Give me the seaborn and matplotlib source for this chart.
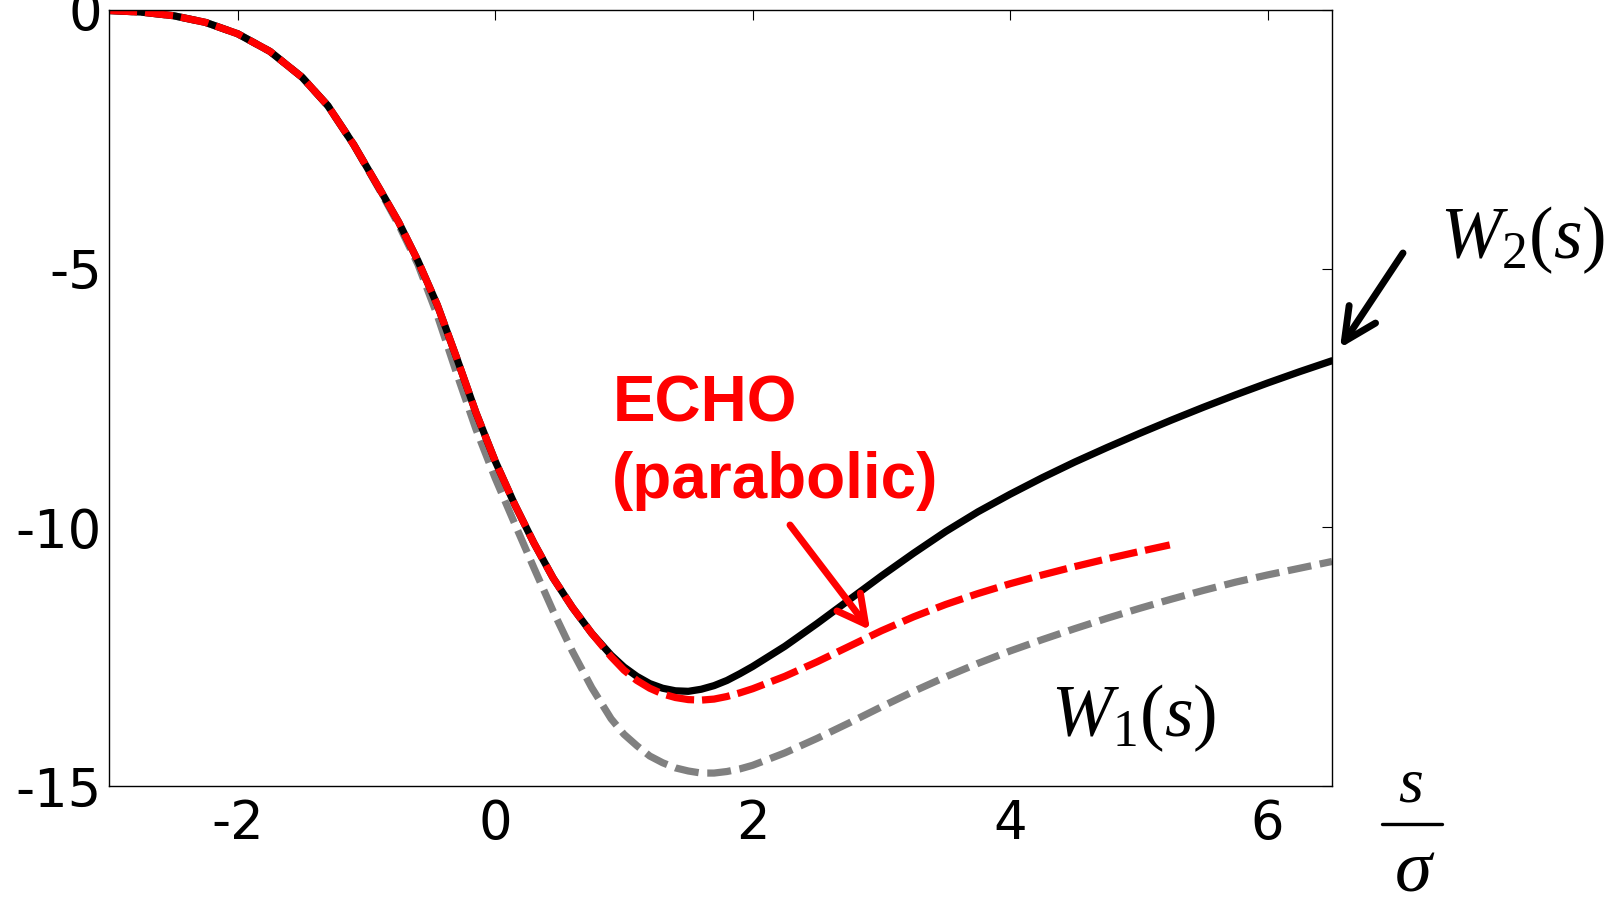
import matplotlib
matplotlib.use("Agg")
import matplotlib.pyplot as plt
from matplotlib.lines import Line2D
import seaborn as sns

# ---------------- data ----------------
x_w2 = [-3.0, -2.75, -2.5, -2.25, -2.0, -1.75, -1.5, -1.3, -1.1, -0.9, -0.75, -0.6,
        -0.45, -0.3, -0.15, 0.0, 0.15, 0.3, 0.45, 0.6, 0.75, 0.9, 1.0, 1.1, 1.2,
        1.3, 1.4, 1.5, 1.6, 1.7, 1.8, 1.9, 2.0, 2.25, 2.5, 2.75, 3.0, 3.25, 3.5,
        3.75, 4.0, 4.25, 4.5, 4.75, 5.0, 5.25, 5.5, 5.75, 6.0, 6.25, 6.5]
y_w2 = [-0.01, -0.04, -0.11, -0.24, -0.46, -0.80, -1.30, -1.85, -2.60, -3.45, -4.10, -4.85,
        -5.70, -6.72, -7.78, -8.72, -9.55, -10.30, -10.98, -11.55, -12.05, -12.47, -12.70, -12.88, -13.02,
        -13.11, -13.16, -13.17, -13.13, -13.06, -12.96, -12.83, -12.69, -12.30, -11.86, -11.40, -10.94, -10.50, -10.08,
        -9.70, -9.36, -9.04, -8.74, -8.46, -8.19, -7.93, -7.68, -7.44, -7.21, -6.99, -6.78]

x_echo = [-3.0, -2.75, -2.5, -2.25, -2.0, -1.75, -1.5, -1.3, -1.1, -0.9, -0.75, -0.6,
          -0.45, -0.3, -0.15, 0.0, 0.15, 0.3, 0.45, 0.6, 0.75, 0.9, 1.0, 1.1, 1.2,
          1.3, 1.4, 1.5, 1.6, 1.7, 1.8, 1.9, 2.0, 2.25, 2.5, 2.75, 3.0, 3.25, 3.5,
          3.75, 4.0, 4.25, 4.5, 4.75, 5.0, 5.24]
y_echo = [-0.01, -0.04, -0.11, -0.24, -0.46, -0.80, -1.30, -1.85, -2.60, -3.45, -4.10, -4.85,
          -5.70, -6.72, -7.78, -8.72, -9.55, -10.30, -10.98, -11.55, -12.05, -12.50, -12.76, -12.96, -13.11,
          -13.22, -13.29, -13.33, -13.34, -13.32, -13.27, -13.20, -13.12, -12.88, -12.60, -12.30, -12.00, -11.73, -11.49,
          -11.28, -11.09, -10.92, -10.76, -10.61, -10.47, -10.34]

x_w1 = [-3.0, -2.75, -2.5, -2.25, -2.0, -1.75, -1.5, -1.3, -1.1, -0.9, -0.75, -0.6,
        -0.45, -0.3, -0.15, 0.0, 0.15, 0.3, 0.45, 0.6, 0.75, 0.9, 1.0, 1.1, 1.2,
        1.3, 1.4, 1.5, 1.6, 1.7, 1.8, 1.9, 2.0, 2.25, 2.5, 2.75, 3.0, 3.25, 3.5,
        3.75, 4.0, 4.25, 4.5, 4.75, 5.0, 5.25, 5.5, 5.75, 6.0, 6.25, 6.5]
y_w1 = [-0.01, -0.04, -0.11, -0.24, -0.46, -0.80, -1.30, -1.85, -2.60, -3.47, -4.15, -4.92,
        -5.90, -7.02, -8.10, -9.05, -9.92, -10.78, -11.62, -12.40, -13.10, -13.70, -14.00, -14.22, -14.42,
        -14.55, -14.65, -14.71, -14.75, -14.75, -14.72, -14.67, -14.60, -14.36, -14.08, -13.78, -13.47, -13.17, -12.89,
        -12.63, -12.39, -12.17, -11.96, -11.76, -11.57, -11.39, -11.22, -11.06, -10.92, -10.79, -10.66]

x_ticks = [-2, 0, 2, 4, 6]
y_ticks = [0, -5, -10, -15]
x_limits = [-3, 6.5]
y_limits = [-15, 0]

# ---------------- style ----------------
sns.set_style("white")
plt.rcParams["font.family"] = ["DejaVu Sans"]
plt.rcParams["axes.unicode_minus"] = False
plt.rcParams["mathtext.fontset"] = "custom"
plt.rcParams["mathtext.rm"] = "Liberation Serif"
plt.rcParams["mathtext.it"] = "Liberation Serif:italic"

fig = plt.figure(figsize=(16.22, 8.99), dpi=100)
ax = fig.add_axes([0.0672, 0.1257, 0.75401, 0.86318])

LW = 5.2
sns.lineplot(x=x_w1, y=y_w1, ax=ax, color="#808080", linewidth=LW,
             linestyle=(0, (3.3, 1.2)), estimator=None, sort=False)
sns.lineplot(x=x_w2, y=y_w2, ax=ax, color="black", linewidth=LW,
             estimator=None, sort=False)
sns.lineplot(x=x_echo, y=y_echo, ax=ax, color="#ff0000", linewidth=LW,
             linestyle=(0, (3.9, 1.1)), estimator=None, sort=False)

ax.set_xlim(x_limits)
ax.set_ylim(y_limits)
ax.set_xticks(x_ticks)
ax.set_yticks(y_ticks)
ax.set_xticklabels([str(t) for t in x_ticks])
ax.set_yticklabels([str(t) for t in y_ticks])
ax.set_xlabel("")
ax.set_ylabel("")
ax.grid(False)

for sp in ax.spines.values():
    sp.set_visible(True)
    sp.set_color("black")
    sp.set_linewidth(1.0)

ax.tick_params(axis="both", which="major", direction="in", length=7.5, width=0.8,
               color="black", top=True, right=True, labelsize=38, labelcolor="black")
ax.tick_params(axis="x", pad=9)
ax.tick_params(axis="y", pad=5)

# ---------------- annotations ----------------
fig.text(0.3776, 0.5309, "ECHO", color="#ff0000", fontsize=46, fontweight="bold",
         family="Liberation Sans", ha="left", va="baseline")
fig.text(0.3773, 0.4461, "(parabolic)", color="#ff0000", fontsize=46, fontweight="bold",
         family="Liberation Sans", ha="left", va="baseline")

fig.text(0.8878, 0.7130, r"$W_2(s)$", fontsize=53, color="black", ha="left", va="baseline")
fig.text(0.648, 0.1808, r"$W_1(s)$", fontsize=53, color="black", ha="left", va="baseline")

# red arrow
ax.annotate("", xy=(870, 269), xytext=(790, 374), xycoords="figure pixels",
            textcoords="figure pixels", annotation_clip=False,
            arrowprops=dict(arrowstyle="->,head_length=1.0,head_width=0.53",
                            color="#ff0000", lw=5.0, shrinkA=0, shrinkB=0,
                            mutation_scale=20))
# black arrow
ax.annotate("", xy=(1340, 551), xytext=(1403, 646), xycoords="figure pixels",
            textcoords="figure pixels", annotation_clip=False,
            arrowprops=dict(arrowstyle="->,head_length=1.17,head_width=0.57",
                            color="black", lw=5.0, shrinkA=0, shrinkB=0,
                            mutation_scale=20))

# s / sigma axis label
fig.text(0.8699, 0.1090, "s", family="Liberation Serif", style="italic",
         fontsize=46, ha="center", va="baseline", color="black")
fig.lines.append(Line2D([0.8520, 0.8890], [0.0834, 0.0834], transform=fig.transFigure,
                        color="black", linewidth=2.4))
fig.text(0.8711, 0.0085, "σ", family="Liberation Serif", style="italic",
         fontsize=54, ha="center", va="baseline", color="black")

fig.savefig("out.png", dpi=100, facecolor="white")
